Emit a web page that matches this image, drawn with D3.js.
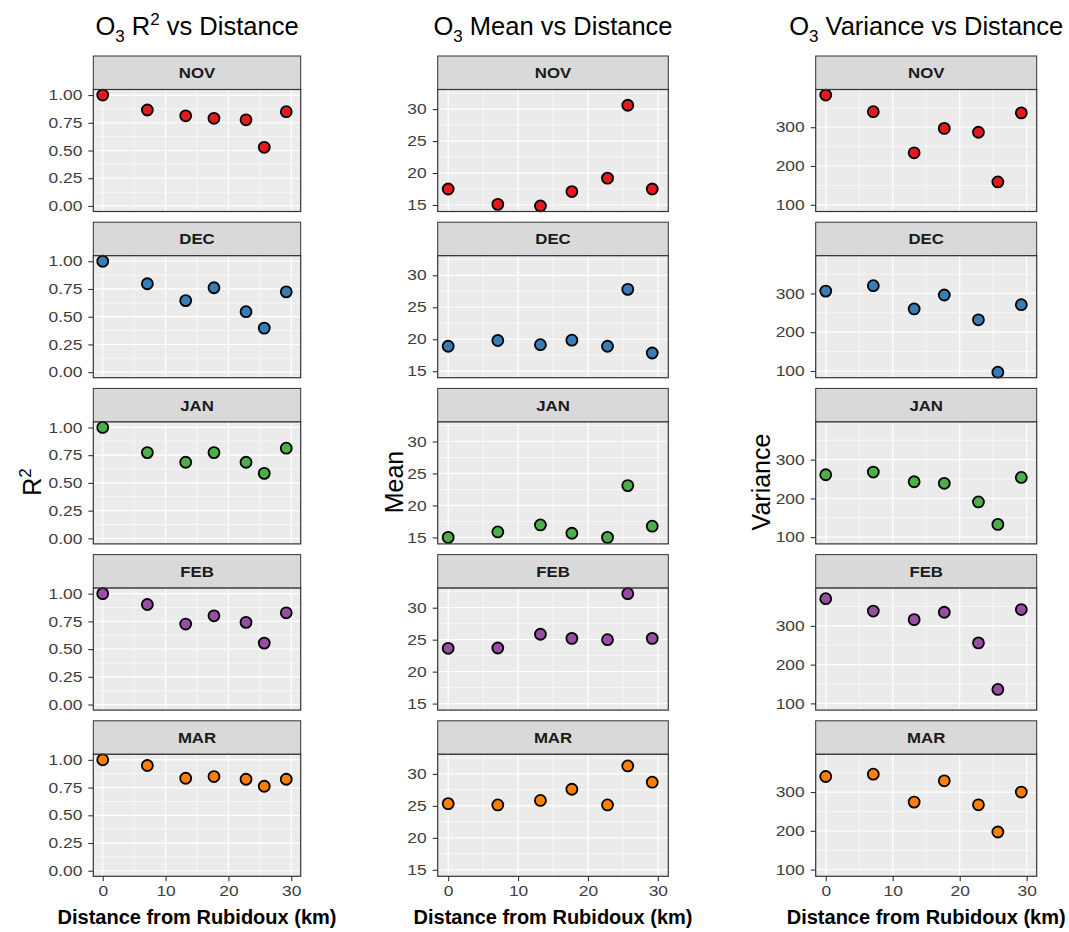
<!DOCTYPE html>
<html>
<head>
<meta charset="utf-8">
<script src="https://cdn.jsdelivr.net/npm/d3@7"></script>
<style>
  body { margin: 0; background: #fff; }
  text { font-family: "Liberation Sans", Arial, sans-serif; }
</style>
</head>
<body>
<div id="chart"></div>
<script>
// facets, top to bottom
var months = ["NOV", "DEC", "JAN", "FEB", "MAR"];
var monthColors = ["#E41A1C", "#377EB8", "#4DAF4A", "#984EA3", "#FF7F00"];

// distance of each site from Rubidoux (km)
var distances = [0, 7.1, 13.2, 17.7, 22.8, 25.7, 29.2];

// one row per month, one value per site
var r2Values = [
  [1.00, 0.865, 0.813, 0.790, 0.777, 0.529, 0.850],
  [1.00, 0.797, 0.645, 0.761, 0.545, 0.397, 0.724],
  [1.00, 0.773, 0.686, 0.773, 0.686, 0.586, 0.813],
  [1.00, 0.902, 0.726, 0.800, 0.741, 0.554, 0.827],
  [1.00, 0.949, 0.834, 0.849, 0.825, 0.762, 0.825]
];
var meanValues = [
  [17.5, 15.1, 14.85, 17.1, 19.2, 30.6, 17.5],
  [18.9, 19.8, 19.15, 19.85, 18.9, 27.8, 17.85],
  [15.0, 15.85, 16.95, 15.65, 15.0, 23.1, 16.75],
  [23.65, 23.7, 25.85, 25.2, 25.0, 32.2, 25.2],
  [25.35, 25.15, 25.85, 27.6, 25.15, 31.25, 28.7]
];
var varianceValues = [
  [383, 340, 234, 297, 287, 159, 337],
  [306, 320, 260, 296, 232, 97, 271],
  [261, 268, 243, 239, 191, 133, 254],
  [370, 338, 316, 335, 256, 136, 342],
  [340, 346, 274, 329, 267, 197, 300]
];

// axis ticks
var distTicks = [0, 10, 20, 30];
var distLimits = [0, 30];
var r2Ticks = [0, 0.25, 0.5, 0.75, 1];
var r2Limits = [0, 1];
var meanTicks = [15, 20, 25, 30];
var varianceTicks = [100, 200, 300];

var W = 1069, H = 932;
var rowTop = 56, rowStep = 166.2, stripH = 33.5, panelH = 122;
var tickStretch = 1.2;

var svg = d3.select("#chart").append("svg")
  .attr("width", W)
  .attr("height", H);

// expand a range by 5% each side, like ggplot does
function expand(ext) {
  var pad = (ext[1] - ext[0]) * 0.05;
  return [ext[0] - pad, ext[1] + pad];
}

var columns = [
  { x0: 93.3, x1: 300.7, values: r2Values, ticks: r2Ticks, fmt: d3.format(".2f"),
    limits: r2Limits, name: "R2", ylabX: 32 },
  { x0: 437.7, x1: 668.3, values: meanValues, ticks: meanTicks, fmt: d3.format("d"),
    limits: null, name: "Mean", ylabX: 394 },
  { x0: 815.7, x1: 1036.7, values: varianceValues, ticks: varianceTicks, fmt: d3.format("d"),
    limits: null, name: "Variance", ylabX: 761 }
];

columns.forEach(function(col) {
  var x = d3.scaleLinear()
    .domain(expand(distLimits))
    .range([col.x0, col.x1]);

  var ext = col.limits || d3.extent(d3.merge(col.values));
  var yDomain = expand(ext);
  var step = col.ticks[1] - col.ticks[0];
  var minorY = d3.range(col.ticks[0] - step * 10 - step / 2, yDomain[1], step)
    .filter(function(v) { return v > yDomain[0] && v < yDomain[1]; });
  var xstep = distTicks[1] - distTicks[0];
  var minorX = d3.range(distTicks[0] - xstep / 2, x.domain()[1], xstep)
    .filter(function(v) { return v > x.domain()[0]; });

  // title
  var cx = (col.x0 + col.x1) / 2;
  var title = svg.append("text")
    .attr("x", cx)
    .attr("y", 35)
    .attr("text-anchor", "middle")
    .attr("font-size", 25.5)
    .attr("fill", "#000");
  title.append("tspan").text("O");
  title.append("tspan").attr("font-size", 17).attr("dy", 7).text("3");
  if (col.name == "R2") {
    title.append("tspan").attr("dy", -7).text(" R");
    title.append("tspan").attr("font-size", 17).attr("dy", -10).text("2");
    title.append("tspan").attr("dy", 10).text(" vs Distance");
  } else {
    title.append("tspan").attr("dy", -7).text(" " + col.name + " vs Distance");
  }

  // y axis title
  var ylab = svg.append("text")
    .attr("transform", "translate(" + col.ylabX + ",482) rotate(-90)")
    .attr("text-anchor", "middle")
    .attr("dy", "0.35em")
    .attr("font-size", 25)
    .attr("fill", "#000");
  if (col.name == "R2") {
    ylab.append("tspan").text("R");
    ylab.append("tspan").attr("font-size", 17).attr("dy", -10).text("2");
  } else {
    ylab.text(col.name);
  }

  months.forEach(function(month, i) {
    var top = rowTop + i * rowStep;
    var pTop = top + stripH;
    var y = d3.scaleLinear().domain(yDomain).range([pTop + panelH, pTop]);

    // strip
    svg.append("rect")
      .attr("x", col.x0).attr("y", top)
      .attr("width", col.x1 - col.x0).attr("height", stripH)
      .attr("fill", "#D9D9D9")
      .attr("stroke", "#333333").attr("stroke-width", 1);
    svg.append("text")
      .attr("transform", "translate(" + cx + "," + (top + stripH / 2 + 5.5) + ") scale(1.12,1)")
      .attr("text-anchor", "middle")
      .attr("font-size", 15)
      .attr("font-weight", "bold")
      .attr("fill", "#1A1A1A")
      .text(month);

    // panel background
    svg.append("rect")
      .attr("x", col.x0).attr("y", pTop)
      .attr("width", col.x1 - col.x0).attr("height", panelH)
      .attr("fill", "#EBEBEB");

    var grid = svg.append("g");
    grid.selectAll(".minor-y").data(minorY).enter().append("line")
      .attr("x1", col.x0).attr("x2", col.x1)
      .attr("y1", function(d) { return y(d); }).attr("y2", function(d) { return y(d); })
      .attr("stroke", "#fff").attr("stroke-width", 0.6);
    grid.selectAll(".minor-x").data(minorX).enter().append("line")
      .attr("y1", pTop).attr("y2", pTop + panelH)
      .attr("x1", function(d) { return x(d); }).attr("x2", function(d) { return x(d); })
      .attr("stroke", "#fff").attr("stroke-width", 0.6);
    grid.selectAll(".major-y").data(col.ticks).enter().append("line")
      .attr("x1", col.x0).attr("x2", col.x1)
      .attr("y1", function(d) { return y(d); }).attr("y2", function(d) { return y(d); })
      .attr("stroke", "#fff").attr("stroke-width", 1.2);
    grid.selectAll(".major-x").data(distTicks).enter().append("line")
      .attr("y1", pTop).attr("y2", pTop + panelH)
      .attr("x1", function(d) { return x(d); }).attr("x2", function(d) { return x(d); })
      .attr("stroke", "#fff").attr("stroke-width", 1.2);

    // points
    svg.append("g").selectAll("circle")
      .data(col.values[i])
      .enter()
      .append("circle")
      .attr("cx", function(d, j) { return x(distances[j]); })
      .attr("cy", function(d) { return y(d); })
      .attr("r", 5.5)
      .attr("fill", monthColors[i])
      .attr("stroke", "#000")
      .attr("stroke-width", 1.8);

    // panel border
    svg.append("rect")
      .attr("x", col.x0).attr("y", pTop)
      .attr("width", col.x1 - col.x0).attr("height", panelH)
      .attr("fill", "none")
      .attr("stroke", "#333333").attr("stroke-width", 1.2);

    // y axis
    var yAxis = svg.append("g")
      .attr("transform", "translate(" + col.x0 + ",0)")
      .call(d3.axisLeft(y).tickValues(col.ticks).tickFormat(col.fmt).tickSize(5));
    yAxis.select(".domain").remove();
    yAxis.selectAll(".tick line").attr("stroke", "#333333").attr("stroke-width", 1.1);
    yAxis.selectAll(".tick text")
      .attr("x", null)
      .attr("transform", "translate(-11,0) scale(" + tickStretch + ",1)")
      .attr("font-size", 14.5)
      .attr("font-family", "Liberation Sans, Arial, sans-serif")
      .attr("fill", "#3D3D3D");

    // x axis on the last facet only
    if (i == months.length - 1) {
      var xAxis = svg.append("g")
        .attr("transform", "translate(0," + (pTop + panelH) + ")")
        .call(d3.axisBottom(x).tickValues(distTicks).tickSize(5).tickPadding(4));
      xAxis.select(".domain").remove();
      xAxis.selectAll(".tick line").attr("stroke", "#333333").attr("stroke-width", 1.1);
      xAxis.selectAll(".tick text")
        .attr("transform", "scale(" + tickStretch + ",1)")
        .attr("font-size", 14.5)
        .attr("font-family", "Liberation Sans, Arial, sans-serif")
        .attr("fill", "#3D3D3D");

      svg.append("text")
        .attr("x", cx)
        .attr("y", 924)
        .attr("text-anchor", "middle")
        .attr("font-size", 20)
        .attr("font-weight", "bold")
        .attr("fill", "#000")
        .text("Distance from Rubidoux (km)");
    }
  });
});
</script>
</body>
</html>
